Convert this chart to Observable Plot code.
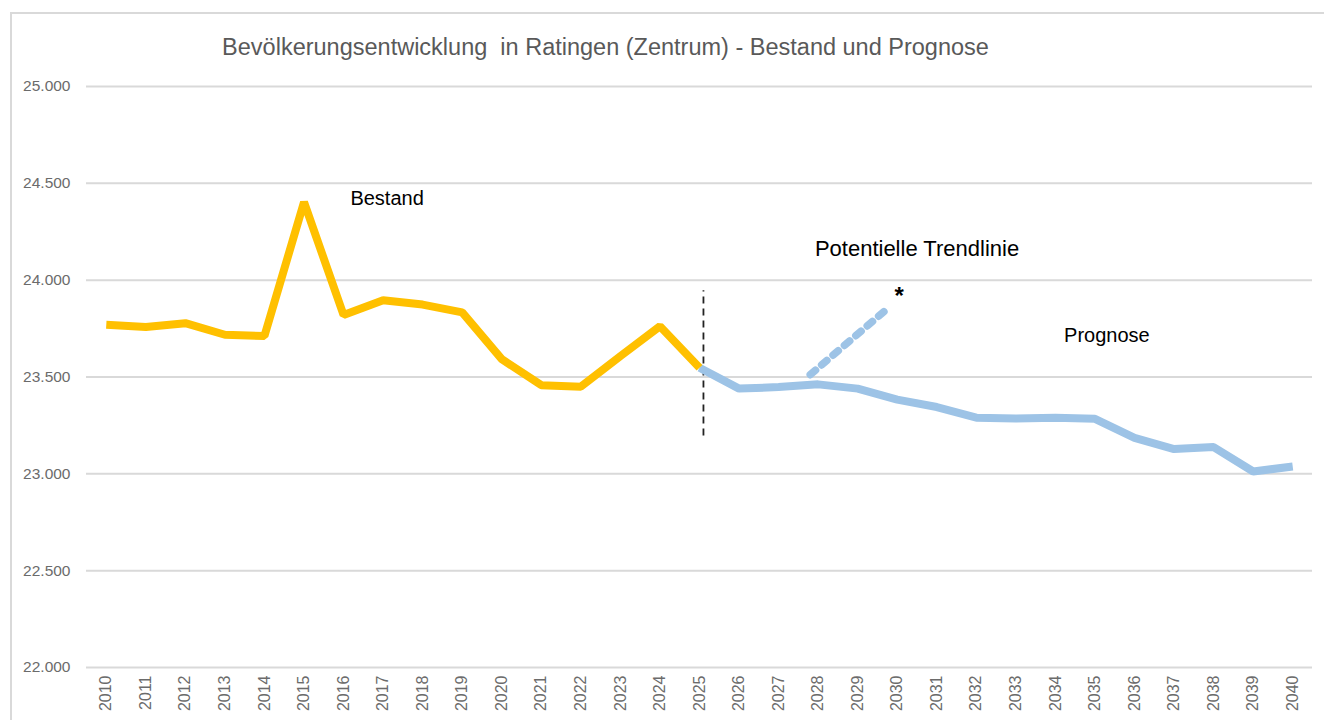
<!DOCTYPE html>
<html>
<head>
<meta charset="utf-8">
<script src="https://cdn.jsdelivr.net/npm/d3@7"></script>
<script src="https://cdn.jsdelivr.net/npm/@observablehq/plot@0.6"></script>
<style>
  html, body { margin: 0; padding: 0; background: #fff; }
  #wrap { position: relative; width: 1324px; height: 720px; overflow: hidden; }
  #frame { position: absolute; left: 10px; top: 12px; width: 1330px; height: 730px; border: 2px solid #d9d9d9; box-sizing: border-box; }
  #title { position: absolute; left: 0; top: 34px; width: 1211px; text-align: center; font-family: "Liberation Sans", Arial, sans-serif; font-size: 23.5px; color: #595959; white-space: pre; }
  #chart { position: absolute; left: 0; top: 0; }
</style>
</head>
<body>
<div id="wrap">
  <div id="frame"></div>
  <div id="chart"></div>
  <div id="title">Bevölkerungsentwicklung  in Ratingen (Zentrum) - Bestand und Prognose</div>
</div>
<script>
// Years
const years = d3.range(2010, 2041);
const yTicks = [22000, 22500, 23000, 23500, 24000, 24500, 25000];

// Bestand (2010–2025)
const bestandYears = [2010, 2011, 2012, 2013, 2014, 2015, 2016, 2017, 2018, 2019, 2020, 2021, 2022, 2023, 2024, 2025];
const bestandValues = [23770, 23758, 23778, 23718, 23712, 24403, 23820, 23896, 23874, 23834, 23592, 23458, 23450, 23608, 23762, 23548];

// Prognose (2025–2040)
const prognoseYears = [2025, 2026, 2027, 2028, 2029, 2030, 2031, 2032, 2033, 2034, 2035, 2036, 2037, 2038, 2039, 2040];
const prognoseValues = [23548, 23440, 23448, 23462, 23440, 23383, 23345, 23290, 23286, 23290, 23284, 23186, 23128, 23138, 23012, 23038];

// Potentielle Trendlinie
const trendYears = [2027.8, 2029.7];
const trendValues = [23512, 23844];

// Trennlinie Bestand / Prognose
const splitYear = [2025.1];
const splitRange = [23195, 23945];

// Beschriftungen
const labelTexts = ["Bestand", "Potentielle Trendlinie", "Prognose"];
const labelYears = [2017.1, 2030.5, 2035.3];
const labelValues = [24420, 24160, 23715];
const starText = ["*"];
const starYear = [2030.05];
const starValue = [23915];

const bestand = bestandYears.map((x, i) => ({x, y: bestandValues[i]}));
const prognose = prognoseYears.map((x, i) => ({x, y: prognoseValues[i]}));
const trend = trendYears.map((x, i) => ({x, y: trendValues[i]}));
const labels = labelTexts.map((t, i) => ({t, x: labelYears[i], y: labelValues[i]}));
const stars = starText.map((t, i) => ({t, x: starYear[i], y: starValue[i]}));

const fmt = d => d3.format(",")(d).replace(/,/g, ".");
const tickFont = '"Liberation Sans", Arial, sans-serif';

const chart = Plot.plot({
  width: 1324,
  height: 720,
  marginTop: 86,
  marginBottom: 53,
  marginLeft: 86,
  marginRight: 12,
  style: { background: "transparent", fontFamily: '"Liberation Sans", Arial, sans-serif', overflow: "visible" },
  x: { type: "linear", domain: [2009.5, 2040.5] },
  y: { domain: [22000, 25000] },
  marks: [
    Plot.gridY(yTicks, { stroke: "#d9d9d9", strokeOpacity: 1, strokeWidth: 2 }),
    Plot.axisY(yTicks, { tickSize: 0, tickPadding: 16, tickFormat: fmt, fontSize: 15.5, fill: "#6b6b6b", fontFamily: tickFont, label: null }),
    Plot.axisX(years, { tickSize: 0, tickRotate: -90, tickPadding: 8, tickFormat: d => String(d), fontSize: 16, fill: "#6b6b6b", fontFamily: tickFont, label: null }),
    Plot.ruleX(splitYear, { x: d => d, y1: splitRange[0], y2: splitRange[1], stroke: "#222", strokeWidth: 1.8, strokeDasharray: "7,5" }),
    Plot.line(trend, { x: "x", y: "y", stroke: "#9dc3e6", strokeWidth: 7.5, strokeDasharray: "7,8" }),
    Plot.line(prognose, { x: "x", y: "y", stroke: "#9dc3e6", strokeWidth: 8, strokeLinejoin: "miter", strokeLinecap: "butt" }),
    Plot.line(bestand, { x: "x", y: "y", stroke: "#ffc000", strokeWidth: 8, strokeLinejoin: "miter", strokeLinecap: "butt" }),
    Plot.text(labels, { x: "x", y: "y", text: "t", fontSize: d => d.t === "Potentielle Trendlinie" ? 22 : 20, fill: "#000", textAnchor: "middle" }),
    Plot.text(stars, { x: "x", y: "y", text: "t", fontSize: 24, fontWeight: "bold", fill: "#000", textAnchor: "middle" })
  ]
});
document.getElementById("chart").appendChild(chart);
</script>
</body>
</html>
